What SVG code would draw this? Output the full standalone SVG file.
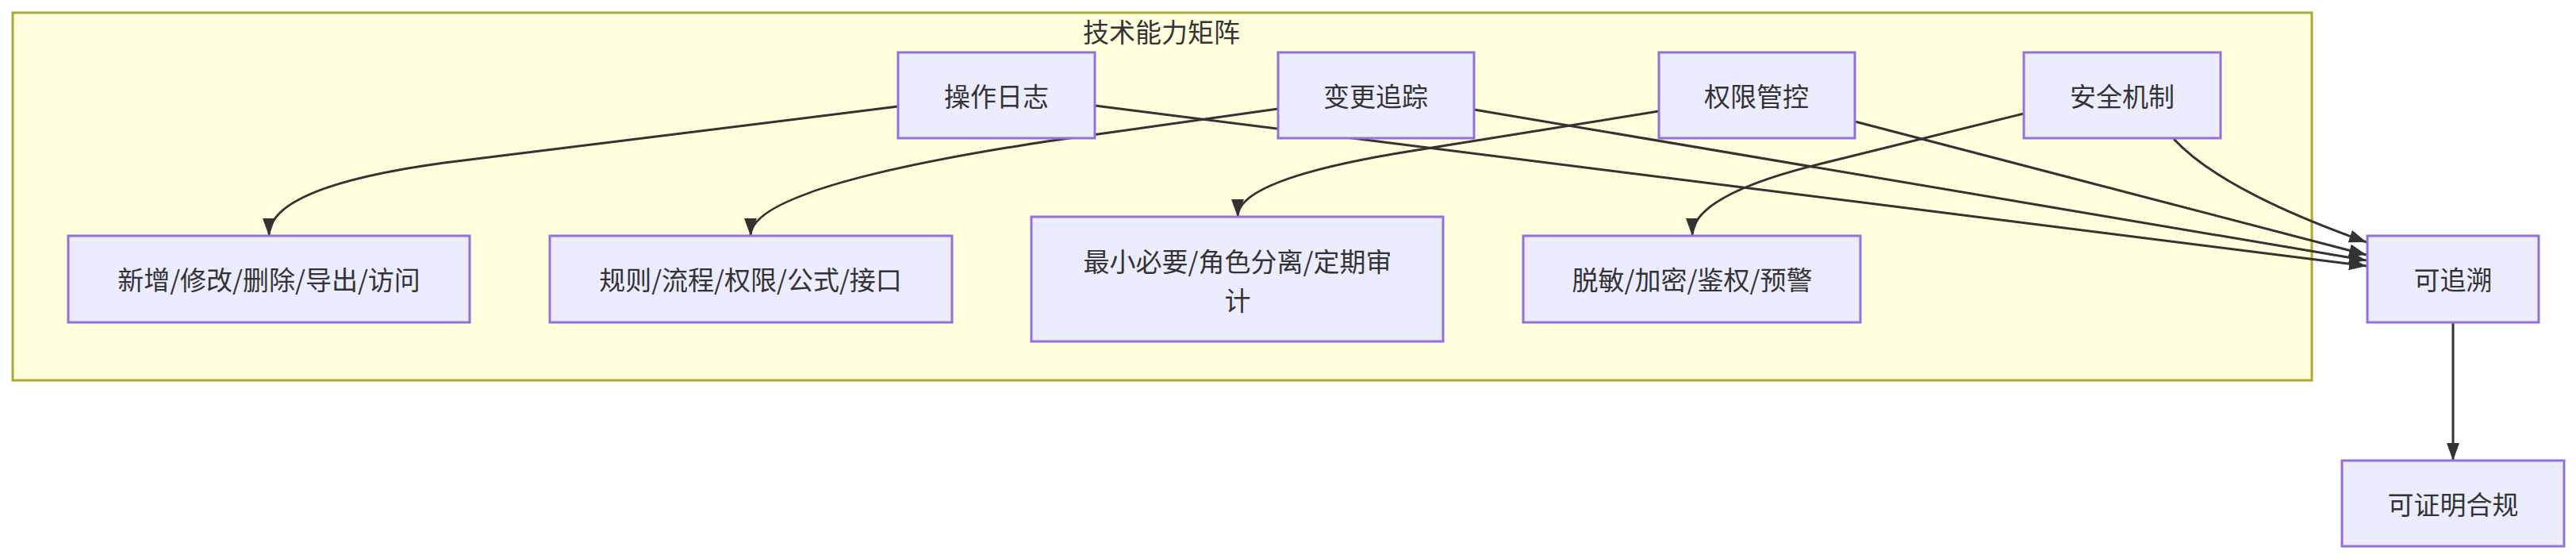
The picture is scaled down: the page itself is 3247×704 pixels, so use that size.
<svg xmlns="http://www.w3.org/2000/svg" width="3247" height="704" viewBox="0 0 3247 704">
<style>
.n rect{fill:#ececff;stroke:#9370db;stroke-width:3}
text{font-family:"Noto Sans CJK SC","Liberation Sans",sans-serif;font-size:33px;fill:#333;text-anchor:middle;dominant-baseline:central}
.e path{fill:none;stroke:#333;stroke-width:3}
</style>
<defs><marker id="a" markerUnits="userSpaceOnUse" markerWidth="24" markerHeight="20" refX="22" refY="8" orient="auto" viewBox="0 0 24 16"><path d="M0,0 L22,8 L0,16 z" fill="#333"/></marker></defs>
<rect x="16" y="16" width="2898" height="463" fill="#ffffde" stroke="#aaaa33" stroke-width="3"/>
<text x="1464" y="39">技术能力矩阵</text>
<g class="e">
<path d="M1132,134 L560,205 Q339,235 339,297" marker-end="url(#a)"/>
<path d="M1611,137 L1320,178 Q946,235 946,297" marker-end="url(#a)"/>
<path d="M2091,140 L1780,190 Q1560,225 1560,273" marker-end="url(#a)"/>
<path d="M2551,143 L2300,205 Q2133,245 2133,297" marker-end="url(#a)"/>
<path d="M1380,133 L2983,335" marker-end="url(#a)"/>
<path d="M1858,138 L2983,328" marker-end="url(#a)"/>
<path d="M2338,153 L2983,321" marker-end="url(#a)"/>
<path d="M2740,175 Q2800,240 2983,305" marker-end="url(#a)"/>
<path d="M3092,406 L3092,580" marker-end="url(#a)"/>
</g>
<g id="n1" class="n"><rect x="1132" y="66" width="248" height="108"/><text x="1256" y="120">操作日志</text></g>
<g id="n2" class="n"><rect x="1611" y="66" width="247" height="108"/><text x="1734" y="120">变更追踪</text></g>
<g id="n3" class="n"><rect x="2091" y="66" width="247" height="108"/><text x="2214" y="120">权限管控</text></g>
<g id="n4" class="n"><rect x="2551" y="66" width="248" height="108"/><text x="2675" y="120">安全机制</text></g>
<g id="n5" class="n"><rect x="86" y="297" width="506" height="109"/><text x="339" y="351">新增/修改/删除/导出/访问</text></g>
<g id="n6" class="n"><rect x="693" y="297" width="507" height="109"/><text x="946" y="351">规则/流程/权限/公式/接口</text></g>
<g id="n7" class="n"><rect x="1300" y="273" width="519" height="157"/><text x="1560" y="328">最小必要/角色分离/定期审</text><text x="1560" y="377">计</text></g>
<g id="n8" class="n"><rect x="1920" y="297" width="425" height="109"/><text x="2133" y="351">脱敏/加密/鉴权/预警</text></g>
<g id="n9" class="n"><rect x="2984" y="297" width="216" height="109"/><text x="3092" y="351">可追溯</text></g>
<g id="n10" class="n"><rect x="2952" y="580" width="280" height="108"/><text x="3092" y="634">可证明合规</text></g>
</svg>
